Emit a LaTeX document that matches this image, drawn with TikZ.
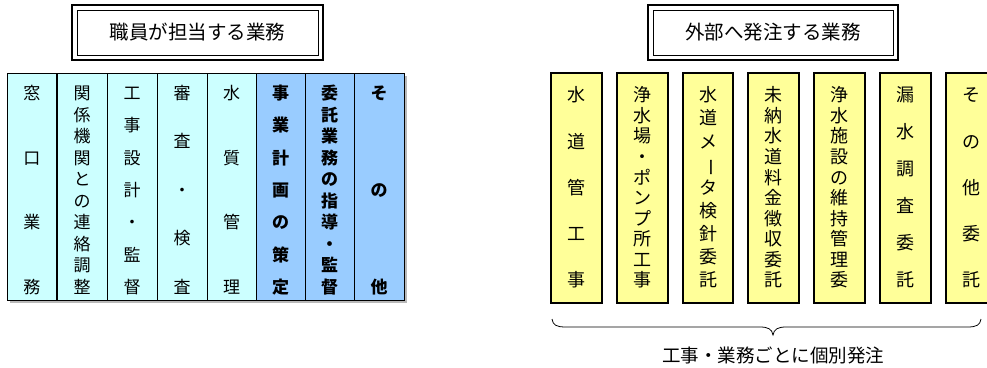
\documentclass[tikz,border=0pt]{standalone}
\usepackage{fontspec}
\usepackage{graphicx}
\setmainfont{Noto Sans CJK JP}
\definecolor{cyanfill}{HTML}{CCFFFF}
\definecolor{bluefill}{HTML}{99CCFF}
\definecolor{yellowfill}{HTML}{FFFF99}
\newcommand\VT[2]{\vbox to #1{\offinterlineskip\foreach \c [count=\n] in {#2}{\ifnum\n>1 \vfill\fi\hbox to 1.4em{\hss\raisebox{0.12em}[1em][0pt]{\c}\hss}}}}
\newcommand\VBar{\rotatebox[origin=c]{-90}{ー}}
\tikzset{
  cell/.style={draw=black, line width=0.9pt},
  ybox/.style={draw=black, line width=2.2pt, fill=yellowfill},
  ltext/.style={inner sep=0pt, font=\fontsize{17}{17}\selectfont},
  lbold/.style={inner sep=0pt, font=\fontsize{17}{17}\selectfont\bfseries},
  rtext/.style={inner sep=0pt, font=\fontsize{18}{18}\selectfont},
  titletext/.style={inner sep=0pt, font=\fontsize{19.5}{19.5}\selectfont},
  frameout/.style={draw=black, line width=1.6pt},
  framein/.style={draw=black, line width=0.8pt},
}
\begin{document}
\begin{tikzpicture}[x=1pt,y=-1pt]
\useasboundingbox[fill=white] (0,0) rectangle (987,367);

% ---------- left title ----------
\draw[frameout] (72,5) rectangle (323,60);
\draw[framein] (77,10) rectangle (318,55);
\node[titletext] (lt) at (197.5,32.5) {職員が担当する業務};

% ---------- right title ----------
\draw[frameout] (648,5) rectangle (898,60);
\draw[framein] (653,10) rectangle (893,55);
\node[titletext] (rt) at (773,32.5) {外部へ発注する業務};

% ---------- left table ----------
\draw[gray!55, line width=1.5pt] (10,302) -- (406,302) -- (406,76);
\foreach \xa/\xb/\col [count=\i] in {7/57/cyanfill,57/107/cyanfill,107/157/cyanfill,157/207/cyanfill,207/256/cyanfill,256/305/bluefill,305/354/bluefill,354/404/bluefill}{
  \draw[cell, fill=\col] (\xa,73) rectangle (\xb,300);
  \coordinate (L\i) at ({(\xa+\xb)/2},190);
}
\draw[black, line width=2.2pt] (57,73) -- (57,300);

\node[ltext] (L1t) at (L1) {\VT{211pt}{窓,口,業,務}};
\node[ltext] (L2t) at (L2) {\VT{211pt}{関,係,機,関,と,の,連,絡,調,整}};
\node[ltext] (L3t) at (L3) {\VT{211pt}{工,事,設,計,・,監,督}};
\node[ltext] (L4t) at (L4) {\VT{211pt}{審,査,・,検,査}};
\node[ltext] (L5t) at (L5) {\VT{211pt}{水,質,管,理}};
\node[lbold] (L6t) at (L6) {\VT{211pt}{事,業,計,画,の,策,定}};
\node[lbold] (L7t) at (L7) {\VT{211pt}{委,託,業,務,の,指,導,・,監,督}};
\node[lbold] (L8t) at (L8) {\VT{211pt}{そ,の,他}};

% ---------- right boxes ----------
\foreach \xa/\xb [count=\i] in {551/602,617/668,683/733,748/799,814/865,880/931,946/997}{
  \draw[ybox] (\xa,73) rectangle (\xb,303);
  \coordinate (R\i) at ({(\xa+\xb)/2},187.5);
}
\node[rtext] (R1t) at (R1) {\VT{203pt}{水,道,管,工,事}};
\node[rtext] (R2t) at (R2) {\VT{203pt}{浄,水,場,・,ポ,ン,プ,所,工,事}};
\node[rtext] (R3t) at (R3) {\VT{203pt}{水,道,メ,{\VBar},タ,検,針,委,託}};
\node[rtext] (R4t) at (R4) {\VT{203pt}{未,納,水,道,料,金,徴,収,委,託}};
\node[rtext] (R5t) at (R5) {\VT{203pt}{浄,水,施,設,の,維,持,管,理,委}};
\node[rtext] (R6t) at (R6) {\VT{203pt}{漏,水,調,査,委,託}};
\node[rtext] (R7t) at (R7) {\VT{203pt}{そ,の,他,委,託}};

% ---------- brace ----------
\coordinate (bl) at (552,319);
\coordinate (btip) at (773,335);
\coordinate (br) at (981,319);
\draw[line width=0.8pt] (bl) .. controls (553,325) and (556,327) .. (566,327) -- (760,327)
  .. controls (768,327) and (772,329) .. (btip)
  .. controls (774,329) and (778,327) .. (786,327) -- (967,327)
  .. controls (977,327) and (980,325) .. (br);
\node[titletext, font=\fontsize{18.5}{18.5}\selectfont] (bt) at (773,355) {工事・業務ごとに個別発注};
\end{tikzpicture}
\end{document}
